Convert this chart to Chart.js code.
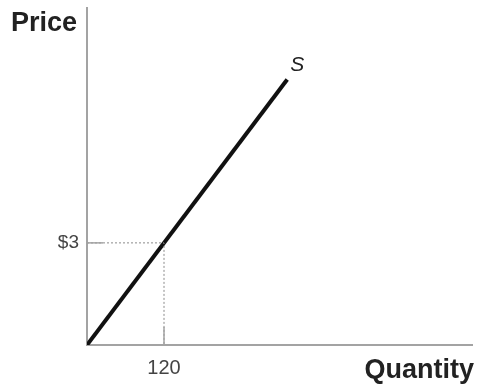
<!DOCTYPE html>
<html>
<head>
<meta charset="utf-8">
<script src="https://cdn.jsdelivr.net/npm/chart.js@4/dist/chart.umd.min.js"></script>
<style>
  html, body { margin: 0; padding: 0; background: #fff; }
  #wrap { width: 477px; height: 384px; }
</style>
</head>
<body>
<div id="wrap"><canvas id="supplyChart"></canvas></div>
<script>
// Supply curve data
const supplyQty = [0, 312];
const supplyPrice = [0, 7.8];

// Marked point on the curve
const markQty = 120;
const markPrice = 3;

// Tick labels
const xTickLabels = ["120"];
const yTickLabels = ["$3"];

const axisGray = "#a3a3a3";

// Plugin for inward tick marks, axis titles and the "S" label
const extrasPlugin = {
  id: "extras",
  afterDraw: (chart) => {
    const ctx = chart.ctx;
    const xs = chart.scales.x;
    const ys = chart.scales.y;
    const area = chart.chartArea;
    ctx.save();

    // tick marks pointing into the plot
    ctx.strokeStyle = axisGray;
    ctx.lineWidth = 1.5;
    const ty = ys.getPixelForValue(markPrice);
    ctx.beginPath();
    ctx.moveTo(area.left, ty);
    ctx.lineTo(area.left + 16, ty);
    ctx.stroke();
    const tx = xs.getPixelForValue(markQty);
    ctx.beginPath();
    ctx.moveTo(tx, area.bottom);
    ctx.lineTo(tx, area.bottom - 18);
    ctx.stroke();

    // axis titles
    ctx.fillStyle = "#222";
    ctx.font = "bold 27px 'Liberation Sans', Arial, sans-serif";
    ctx.textAlign = "left";
    ctx.textBaseline = "alphabetic";
    ctx.fillText("Price", 11, 31);
    ctx.textAlign = "right";
    ctx.fillText("Quantity", 474, 378);

    // curve label
    const last = supplyQty.length - 1;
    const sx = xs.getPixelForValue(supplyQty[last]);
    const sy = ys.getPixelForValue(supplyPrice[last]);
    ctx.font = "italic 21px 'Liberation Sans', Arial, sans-serif";
    ctx.textAlign = "center";
    ctx.textBaseline = "middle";
    ctx.fillStyle = "#222";
    ctx.fillText("S", sx + 10, sy - 14);
    ctx.restore();
  },
};

// drop the extra room Chart.js keeps for edge labels
const noEdgePadding = (s) => {
  s.paddingTop = 0;
  s.paddingBottom = 0;
  s.paddingLeft = 0;
  s.paddingRight = 0;
};

const ctx = document.getElementById("supplyChart").getContext("2d");

new Chart(ctx, {
  type: "line",
  data: {
    datasets: [
      {
        label: "guides",
        data: [
          { x: 0, y: markPrice },
          { x: markQty, y: markPrice },
          { x: markQty, y: 0 },
        ],
        borderColor: "#8a8a8a",
        borderWidth: 1,
        borderDash: [2, 2],
        pointRadius: 0,
        fill: false,
      },
      {
        label: "S",
        data: supplyQty.map((q, i) => ({ x: q, y: supplyPrice[i] })),
        borderColor: "#111",
        borderWidth: 4,
        pointRadius: 0,
        fill: false,
      },
    ],
  },
  options: {
    responsive: true,
    maintainAspectRatio: false,
    animation: false,
    layout: { padding: { left: 27, right: 5, top: 8, bottom: 0 } },
    plugins: {
      legend: { display: false },
      tooltip: { enabled: false },
    },
    scales: {
      x: {
        type: "linear",
        min: 0,
        max: 600,
        grid: { display: false, drawTicks: false },
        border: { display: true, color: axisGray, width: 2 },
        afterBuildTicks: (s) => {
          s.ticks = [{ value: markQty }];
        },
        afterFit: (s) => {
          s.height = 39;
          noEdgePadding(s);
        },
        ticks: {
          padding: 11,
          color: "#444",
          font: { family: "'Liberation Sans', Arial, sans-serif", size: 20 },
          callback: () => xTickLabels[0],
          maxRotation: 0,
        },
      },
      y: {
        type: "linear",
        min: 0,
        max: 9.9,
        grid: { display: false, drawTicks: false },
        border: { display: true, color: axisGray, width: 2 },
        afterBuildTicks: (s) => {
          s.ticks = [{ value: markPrice }];
        },
        afterFit: (s) => {
          s.width = 60;
          noEdgePadding(s);
        },
        ticks: {
          padding: 8,
          color: "#444",
          font: { family: "'Liberation Sans', Arial, sans-serif", size: 19 },
          callback: () => yTickLabels[0],
        },
      },
    },
  },
  plugins: [extrasPlugin],
});
</script>
</body>
</html>
